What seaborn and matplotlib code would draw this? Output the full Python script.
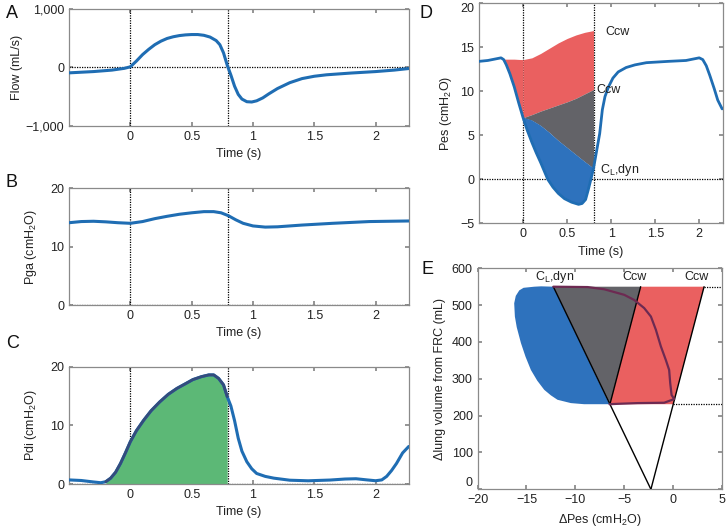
import numpy as np
import pandas as pd
import seaborn as sns
import matplotlib.pyplot as plt

# ---- data ----
# A: flow
flow_t = [-0.5, -0.3, -0.15, -0.05, 0.0, 0.05, 0.1, 0.15, 0.2, 0.25, 0.3, 0.35, 0.4,
          0.45, 0.5, 0.55, 0.6, 0.65, 0.7, 0.73, 0.76, 0.79, 0.82, 0.85, 0.88, 0.91,
          0.95, 0.99, 1.03, 1.08, 1.13, 1.2, 1.3, 1.4, 1.5, 1.6, 1.8, 2.0, 2.15, 2.27]
flow_v = [-92, -70, -45, -15, 11, 110, 220, 310, 390, 450, 496, 525, 545,
          557, 563, 563, 550, 520, 460, 390, 250, 40, -130, -320, -460, -540,
          -585, -590, -570, -520, -450, -360, -260, -190, -150, -125, -95, -70, -45, -18]

# B: gastric pressure
pga_t = [-0.5, -0.4, -0.3, -0.2, -0.1, 0.0, 0.1, 0.2, 0.3, 0.4, 0.5, 0.6, 0.68, 0.74,
         0.8, 0.86, 0.92, 1.0, 1.1, 1.2, 1.4, 1.65, 1.95, 2.27]
pga_v = [14.1, 14.3, 14.35, 14.25, 14.1, 14.0, 14.3, 14.8, 15.2, 15.55, 15.8, 16.0,
         16.0, 15.8, 15.3, 14.6, 14.0, 13.55, 13.35, 13.4, 13.7, 14.0, 14.3, 14.4]

# C: transdiaphragmatic pressure
pdi_t = [-0.5, -0.4, -0.3, -0.24, -0.2, -0.16, -0.12, -0.08, -0.04, 0.0, 0.05, 0.11,
         0.17, 0.24, 0.31, 0.38, 0.45, 0.51, 0.58, 0.64, 0.68, 0.72, 0.76, 0.79,
         0.82, 0.85, 0.88, 0.91, 0.95, 0.99, 1.03, 1.1, 1.17, 1.3, 1.45, 1.63, 1.75,
         1.84, 1.93, 2.0, 2.05, 2.09, 2.13, 2.17, 2.22, 2.27]
pdi_v = [0.7, 0.6, 0.35, 0.22, 0.4, 1.0, 2.0, 3.5, 5.3, 7.2, 9.1, 10.9,
         12.5, 14.0, 15.3, 16.3, 17.1, 17.8, 18.3, 18.6, 18.6, 18.0, 16.9, 14.9,
         13.3, 10.8, 7.8, 5.6, 3.8, 2.6, 1.8, 1.3, 1.0, 0.65, 0.55, 0.68, 0.85,
         0.9, 0.7, 0.56, 0.7, 1.3, 2.3, 3.5, 5.3, 6.4]
pdi_fill_t = [-0.2, -0.16, -0.12, -0.08, -0.04, 0.0, 0.05, 0.11, 0.17, 0.24, 0.31,
              0.38, 0.45, 0.51, 0.58, 0.64, 0.68, 0.72, 0.76, 0.79]
pdi_fill_v = [0.4, 1.0, 2.0, 3.5, 5.3, 7.2, 9.1, 10.9, 12.5, 14.0, 15.3,
              16.3, 17.1, 17.8, 18.3, 18.6, 18.6, 18.0, 16.9, 14.9]

# D: oesophageal pressure
pes_t = [-0.5, -0.4, -0.3, -0.25, -0.22, -0.19, -0.15, -0.1, -0.05, 0.0, 0.05, 0.1,
         0.15, 0.2, 0.28, 0.34, 0.4, 0.47, 0.55, 0.63, 0.67, 0.71, 0.74, 0.77, 0.8,
         0.84, 0.87, 0.90, 0.93, 0.97, 1.02, 1.08, 1.17, 1.27, 1.4, 1.65, 1.85, 1.95,
         2.0, 2.04, 2.08, 2.12, 2.17, 2.21, 2.26]
pes_v = [13.4, 13.5, 13.7, 13.8, 13.6, 13.0, 12.0, 10.5, 8.7, 7.0, 5.5, 4.2,
         3.0, 1.9, 0.0, -0.9, -1.6, -2.2, -2.6, -2.85, -2.75, -2.3, -1.2, 0.0, 1.25,
         3.5, 5.2, 7.9, 9.4, 10.5, 11.5, 12.2, 12.7, 13.0, 13.25, 13.4, 13.5, 13.7,
         13.8, 13.6, 12.9, 11.8, 10.3, 9.0, 8.0]
wedge_t = [0.0, 0.1, 0.2, 0.3, 0.4, 0.5, 0.6, 0.7, 0.8]
ccw_top = [13.6, 13.8, 14.3, 14.9, 15.5, 16.0, 16.4, 16.7, 16.9]
ccw_mid = [7.0, 7.35, 7.75, 8.1, 8.45, 8.8, 9.2, 9.7, 10.2]
cl_dyn = [7.0, 6.7, 6.1, 5.3, 4.4, 3.6, 2.8, 2.0, 1.25]
pre_t = [-0.22, -0.19, -0.15, -0.1, -0.05, 0.0]
pre_top = [13.65, 13.65, 13.65, 13.65, 13.62, 13.6]
pre_low = [13.6, 13.0, 12.0, 10.5, 8.7, 7.0]
blue_t = [0.0, 0.05, 0.1, 0.15, 0.2, 0.28, 0.34, 0.4, 0.47, 0.55, 0.63, 0.67, 0.71,
          0.74, 0.77, 0.8]
blue_low = [7.0, 5.5, 4.2, 3.0, 1.9, 0.0, -0.9, -1.6, -2.2, -2.6, -2.85, -2.75, -2.3,
            -1.2, 0.0, 1.25]

# E: pressure-volume loop (Campbell diagram)
insp_x = [-6.49, -9.09, -10.45, -11.82, -12.5, -13.18, -13.9, -14.55, -15.1, -15.57,
          -16.0, -16.19, -16.26, -16.1, -15.74, -15.3, -14.2, -13.5, -12.25]
insp_y = [231, 231, 234, 243, 255, 270, 295, 324, 360, 397,
          440, 469, 505, 525, 540, 547, 550, 551, 550]
exp_x = [-12.25, -8.74, -7.04, -4.99, -3.96, -2.94, -2.25, -1.74, -1.23, -0.72,
         -0.38, -0.27, -0.13, 0.14, -0.89, -3.62, -5.67, -6.49]
exp_y = [550, 549, 543, 528, 514, 492, 469, 433, 388, 351, 324, 288, 256, 245,
         235, 234, 232, 231]
cl_line_x = [-2.25, -12.25]
cl_line_y = [0, 550]
cw_line_x = [-2.25, 3.2]
cw_line_y = [0, 550]
cw_mid_x = [-6.45, -3.3]
cw_mid_y = [231, 550]
gray_x = [-6.45, -3.3, -12.25]
gray_y = [231, 550, 550]
red_x = [-6.45, 0.05, 3.2, -3.3]
red_y = [231, 231, 550, 550]

BLUE = "#1f6db3"
FILL_BLUE = "#2e72bd"
RED = "#ea6060"
GRAY = "#636368"
GREEN = "#5cb876"
EDGE = "#344c7c"

sns.set_theme(style="ticks")
plt.rcParams["font.family"] = ["Liberation Sans", "DejaVu Sans"]
plt.rcParams["mathtext.default"] = "regular"
plt.rcParams.update({
    "xtick.direction": "in", "ytick.direction": "in",
    "xtick.top": True, "ytick.right": True,
    "xtick.major.size": 3, "ytick.major.size": 3,
    "xtick.color": "#888888", "ytick.color": "#888888",
    "xtick.labelcolor": "#222222", "ytick.labelcolor": "#222222",
    "xtick.labelsize": 9, "ytick.labelsize": 9,
    "axes.edgecolor": "#8a8a8a", "axes.linewidth": 0.9,
    "axes.labelsize": 9, "axes.labelcolor": "#222222",
    "lines.solid_joinstyle": "round", "lines.solid_capstyle": "round",
})

fig = plt.figure(figsize=(7.26, 5.28), dpi=100)
axA = fig.add_axes([0.095, 0.7614, 0.468, 0.2216])
axB = fig.add_axes([0.095, 0.4223, 0.468, 0.2211])
axC = fig.add_axes([0.095, 0.0833, 0.468, 0.2222])
axD = fig.add_axes([0.6598, 0.5771, 0.3361, 0.4167])
axE = fig.add_axes([0.658, 0.0733, 0.336, 0.4186])

dot = dict(color="black", ls=(0, (1, 1)), lw=0.9, zorder=1)
time_ticks = [0, 0.5, 1, 1.5, 2]
time_labels = ["0", "0.5", "1", "1.5", "2"]


def time_axis(ax):
    ax.set_xlim(-0.5, 2.27)
    ax.set_xticks(time_ticks)
    ax.set_xticklabels(time_labels)
    ax.set_xlabel("Time (s)")
    ax.axvline(0, **dot)
    ax.axvline(0.8, **dot)


# A
time_axis(axA)
axA.axhline(0, **dot)
sns.lineplot(x=flow_t, y=flow_v, ax=axA, color=BLUE, lw=2.2, zorder=3)
axA.set_ylim(-1000, 1000)
axA.set_yticks([-1000, 0, 1000])
axA.set_yticklabels(["\u22121,000", "0", "1,000"])
axA.set_ylabel("Flow (mL/s)", labelpad=2)

# B
time_axis(axB)
axB.axhline(0, **dot)
sns.lineplot(x=pga_t, y=pga_v, ax=axB, color=BLUE, lw=2.2, zorder=3)
axB.set_ylim(0, 20)
axB.set_yticks([0, 10, 20])
axB.set_ylabel("Pga (cmH$_2$O)", labelpad=8)

# C
axC.fill_between(pdi_fill_t, pdi_fill_v, 0, color=GREEN, lw=0, zorder=2)
time_axis(axC)
axC.axhline(0, **dot)
sns.lineplot(x=pdi_t, y=pdi_v, ax=axC, color=BLUE, lw=2.2, zorder=3)
sns.lineplot(x=pdi_fill_t, y=pdi_fill_v, ax=axC, color=EDGE, lw=2.0, zorder=4)
axC.set_ylim(0, 20)
axC.set_yticks([0, 10, 20])
axC.set_ylabel("Pdi (cmH$_2$O)", labelpad=8)

# D
axD.fill_between(pre_t, pre_top, pre_low, color=RED, lw=0, zorder=2)
axD.fill_between(wedge_t, ccw_top, ccw_mid, color=RED, lw=0, zorder=2)
axD.fill_between(wedge_t, ccw_mid, cl_dyn, color=GRAY, lw=0, zorder=2)
axD.fill(wedge_t + blue_t[::-1], cl_dyn + blue_low[::-1], color=FILL_BLUE, lw=0, zorder=2)
time_axis(axD)
axD.axhline(0, **dot)
sns.lineplot(x=pes_t, y=pes_v, ax=axD, color=BLUE, lw=2.0, zorder=3)
axD.set_ylim(-5, 20)
axD.set_yticks([-5, 0, 5, 10, 15, 20])
axD.set_yticklabels(["\u22125", "0", "5", "10", "15", "20"])
axD.get_yticklabels()[-1].set_va("top")
axD.set_ylabel("Pes (cmH$_2$O)")
axD.text(0.93, 16.7, "Ccw", fontsize=9, va="center", color="#222222")
axD.text(0.83, 10.1, "Ccw", fontsize=9, va="center", color="#222222")
axD.text(0.87, 1.0, "C$_L$,dyn", fontsize=9, va="center", color="#222222")

# E
axE.fill(insp_x, insp_y, color=FILL_BLUE, lw=0, zorder=2)
axE.fill(gray_x, gray_y, color=GRAY, lw=0, zorder=2)
axE.fill(red_x, red_y, color=RED, lw=0, zorder=2)
axE.plot([3.2, 5], [550, 550], **dot)
axE.plot([0.05, 5], [231, 231], **dot)
sns.lineplot(x=cl_line_x, y=cl_line_y, ax=axE, color="black", lw=1.0, zorder=3)
sns.lineplot(x=cw_line_x, y=cw_line_y, ax=axE, color="black", lw=1.0, zorder=3)
sns.lineplot(x=cw_mid_x, y=cw_mid_y, ax=axE, color="black", lw=1.0, zorder=3)
sns.lineplot(x=exp_x, y=exp_y, ax=axE, color="#6d2a52", lw=1.6, sort=False, zorder=4)
axE.set_xlim(-20, 5)
axE.set_ylim(0, 600)
axE.set_xticks([-20, -15, -10, -5, 0, 5])
axE.set_xticklabels(["\u221220", "\u221215", "\u221210", "\u22125", "0", "5"])
axE.set_yticks([0, 100, 200, 300, 400, 500, 600])
axE.get_yticklabels()[0].set_va("bottom")
axE.set_xlabel("\u0394Pes (cmH$_2$O)")
axE.set_ylabel("\u0394lung volume from FRC (mL)")
axE.text(-12.1, 575, "C$_L$,dyn", fontsize=9, ha="center", va="center", color="#222222")
axE.text(-3.9, 575, "Ccw", fontsize=9, ha="center", va="center", color="#222222")
axE.text(2.4, 575, "Ccw", fontsize=9, ha="center", va="center", color="#222222")

for ax in [axA, axB, axC, axD, axE]:
    for s in ax.spines.values():
        s.set_visible(True)

# panel letters
for lbl, x, y in [("A", 0.008, 0.975), ("B", 0.008, 0.655), ("C", 0.008, 0.35),
                  ("D", 0.578, 0.975), ("E", 0.580, 0.49)]:
    fig.text(x, y, lbl, fontsize=13, va="center", ha="left", color="#111111")

fig.savefig("out.png", dpi=100)
